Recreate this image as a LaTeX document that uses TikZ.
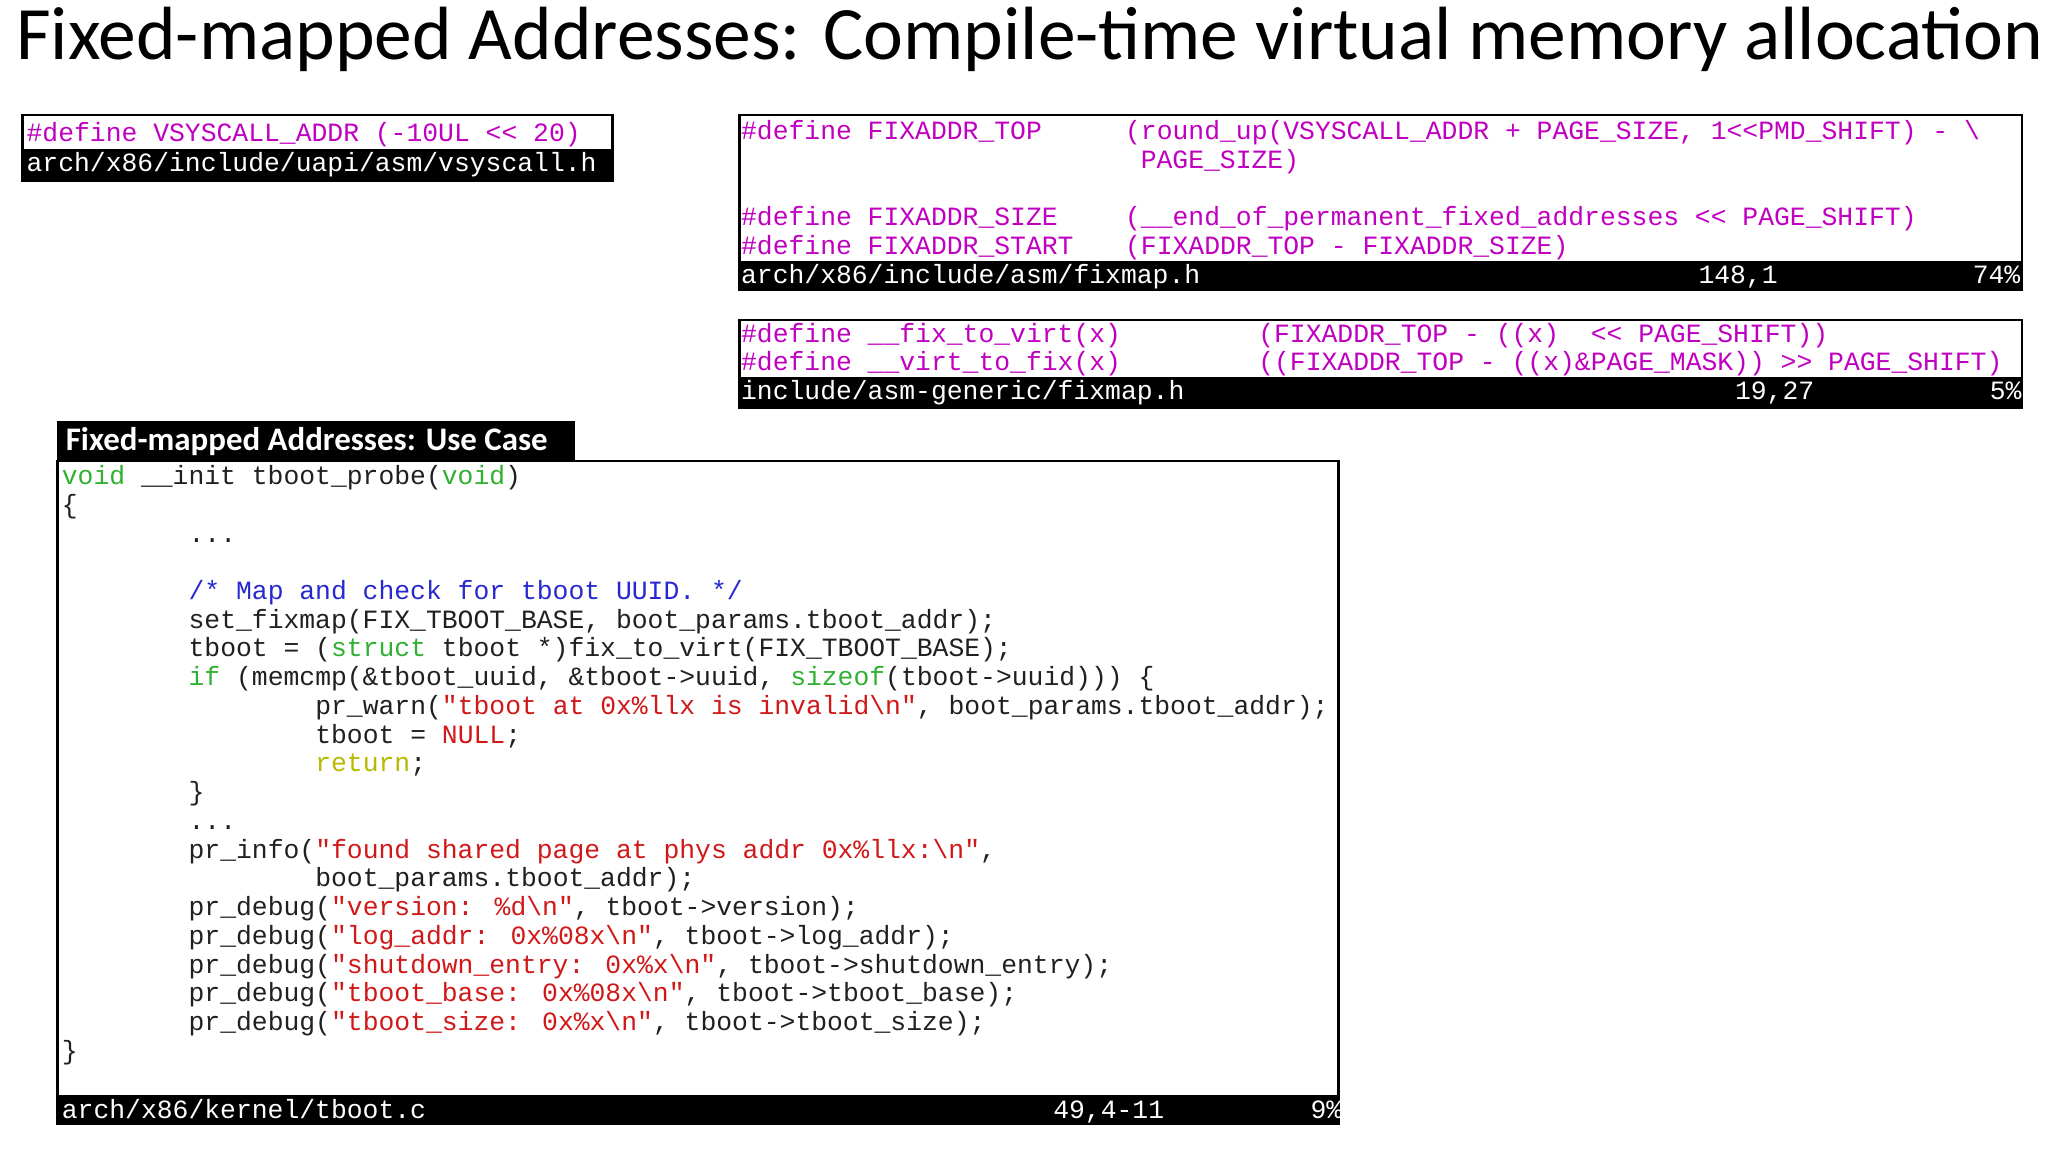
\documentclass[tikz,border=0pt]{standalone}
\usepackage{fontspec}
\setmainfont{Carlito}
\newfontfamily\codef{Liberation Mono}
\definecolor{mag}{HTML}{C000C0}
\definecolor{kw}{HTML}{30B030}
\definecolor{cm}{HTML}{2828D0}
\definecolor{st}{HTML}{D01818}
\definecolor{yl}{HTML}{B8B800}
\definecolor{tx}{HTML}{202020}
\newcommand\cM[1]{\textcolor{mag}{#1}}
\newcommand\cK[1]{\textcolor{kw}{#1}}
\newcommand\cC[1]{\textcolor{cm}{#1}}
\newcommand\cS[1]{\textcolor{st}{#1}}
\newcommand\cY[1]{\textcolor{yl}{#1}}
\newcommand\bsl{\textbackslash}
\begin{document}
\begin{tikzpicture}[x=0.5pt,y=-0.5pt,
  cd/.style={anchor=base west,inner sep=0,font=\codef\fontsize{10.1}{11}\selectfont,text=tx},
  wcd/.style={cd,text=white},
  frame/.style={draw=black,line width=1pt},
  bar/.style={fill=black}]
\useasboundingbox (0,0) rectangle (1568,882);
\node[anchor=west,inner sep=0] (title) at (12,30) {\resizebox{776pt}{!}{\fontsize{28}{30}\selectfont Fixed-mapped Addresses: Compile-time virtual memory allocation}};
% box1
\draw[frame] (17,88) rectangle (469,138);
\fill[bar] (18,114) rectangle (468,137);
\node[cd] (b1a) at (20,108) {\cM{\#define VSYSCALL\_ADDR (-10UL << 20)}};
\node[wcd] (b1b) at (20,131) {arch/x86/include/uapi/asm/vsyscall.h};
% box2
\draw[frame] (566,88) rectangle (1548,222);
\fill[bar] (567,200) rectangle (1547,222);
\node[cd] at (567,107) {\cM{\#define FIXADDR\_TOP}};
\node[cd] at (861,107) {\cM{(round\_up(VSYSCALL\_ADDR + PAGE\_SIZE, 1<<PMD\_SHIFT) - \bsl}};
\node[cd] at (873,129) {\cM{PAGE\_SIZE)}};
\node[cd] at (567,173) {\cM{\#define FIXADDR\_SIZE}};
\node[cd] at (861,173) {\cM{(\_\_end\_of\_permanent\_fixed\_addresses << PAGE\_SHIFT)}};
\node[cd] at (567,195) {\cM{\#define FIXADDR\_START}};
\node[cd] at (861,195) {\cM{(FIXADDR\_TOP - FIXADDR\_SIZE)}};
\node[wcd] at (567,217) {arch/x86/include/asm/fixmap.h};
\node[wcd] at (1300,217) {148,1};
\node[wcd] at (1510,217) {74\%};
% box3
\draw[frame] (566,245) rectangle (1548,312);
\fill[bar] (567,289) rectangle (1547,311);
\node[cd] at (567,262) {\cM{\#define \_\_fix\_to\_virt(x)}};
\node[cd] at (963,262) {\cM{(FIXADDR\_TOP - ((x) \ << PAGE\_SHIFT))}};
\node[cd] at (567,284) {\cM{\#define \_\_virt\_to\_fix(x)}};
\node[cd] at (963,284) {\cM{((FIXADDR\_TOP - ((x)\&PAGE\_MASK)) >> PAGE\_SHIFT)}};
\node[wcd] at (567,306) {include/asm-generic/fixmap.h};
\node[wcd] at (1328,306) {19,27};
\node[wcd] at (1523,306) {5\%};
% big box
\fill[black] (44,322) rectangle (440,353);
\node[anchor=west,inner sep=0,text=white,font=\bfseries\fontsize{12.6}{14}\selectfont] (head) at (50,338) {Fixed-mapped Addresses: Use Case};
\draw[frame] (44,353) rectangle (1025,860);
\fill[bar] (45,838) rectangle (1024,860);
\node[cd] at (47,371) {\cK{void} \_\_init tboot\_probe(\cK{void})};
\node[cd] at (47,393) {\{};
\node[cd] at (144,415) {...};
\node[cd] at (144,459) {\cC{/* Map and check for tboot UUID. */}};
\node[cd] at (144,481) {set\_fixmap(FIX\_TBOOT\_BASE, boot\_params.tboot\_addr);};
\node[cd] at (144,503) {tboot = (\cK{struct} tboot *)fix\_to\_virt(FIX\_TBOOT\_BASE);};
\node[cd] at (144,525) {\cK{if} (memcmp(\&tboot\_uuid, \&tboot->uuid, \cK{sizeof}(tboot->uuid))) \{};
\node[cd] at (241,547) {pr\_warn(\cS{"tboot at 0x\%llx is invalid\bsl n"}, boot\_params.tboot\_addr);};
\node[cd] at (241,569) {tboot = \cS{NULL};};
\node[cd] at (241,591) {\cY{return};};
\node[cd] at (144,613) {\}};
\node[cd] at (144,635) {...};
\node[cd] at (144,657) {pr\_info(\cS{"found shared page at phys addr 0x\%llx:\bsl n"},};
\node[cd] at (241,679) {boot\_params.tboot\_addr);};
\node[cd] at (144,701) {pr\_debug(\cS{"version: \%d\bsl n"}, tboot->version);};
\node[cd] at (144,723) {pr\_debug(\cS{"log\_addr: 0x\%08x\bsl n"}, tboot->log\_addr);};
\node[cd] at (144,745) {pr\_debug(\cS{"shutdown\_entry: 0x\%x\bsl n"}, tboot->shutdown\_entry);};
\node[cd] at (144,767) {pr\_debug(\cS{"tboot\_base: 0x\%08x\bsl n"}, tboot->tboot\_base);};
\node[cd] at (144,789) {pr\_debug(\cS{"tboot\_size: 0x\%x\bsl n"}, tboot->tboot\_size);};
\node[cd] at (47,811) {\}};
\node[wcd] at (47,856) {arch/x86/kernel/tboot.c};
\node[wcd] at (806,856) {49,4-11};
\node[wcd] at (1003,856) {9\%};
\end{tikzpicture}
\end{document}
